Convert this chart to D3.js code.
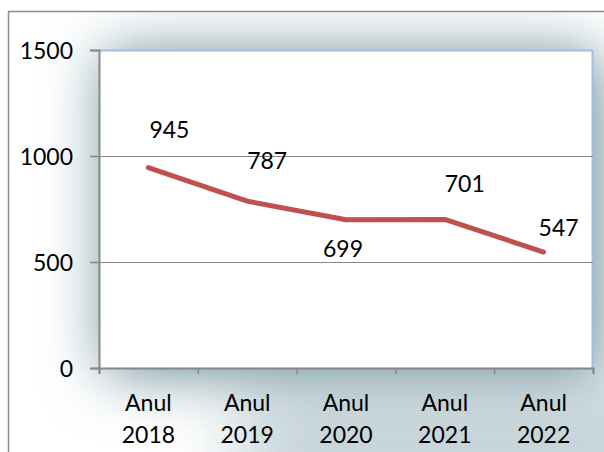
<!DOCTYPE html>
<html>
<head>
<meta charset="utf-8">
<script src="https://cdn.jsdelivr.net/npm/d3@7.9.0/dist/d3.min.js"></script>
<style>
  html, body { margin: 0; padding: 0; background: #fff; }
  svg text { font-family: Lato, "Open Sans", sans-serif; fill: #000; }
</style>
</head>
<body>
<svg id="chart" width="604" height="452"></svg>
<script>
// data
const years = ["2018", "2019", "2020", "2021", "2022"];
const catPrefix = "Anul";
const values = [945, 787, 699, 701, 547];
const yTicks = [0, 500, 1000, 1500];
// where each data label sits relative to its point (dx, dy of baseline)
const labelOffsets = [[21, -30], [20, -32], [-3, 37], [20, -27], [15, -16]];

const svg = d3.select("#chart");
const svgWidth  = +svg.attr("width");
const svgHeight = +svg.attr("height");

// plot area inside the frame
const margin = { top: 50, right: 11, bottom: 84, left: 99 };
const width  = svgWidth  - margin.left - margin.right;
const height = svgHeight - margin.top  - margin.bottom;

// outer chart frame (runs off the right and bottom of the picture)
svg.append("rect")
    .attr("x", 8.5).attr("y", 11.5)
    .attr("width", 620).attr("height", 460)
    .attr("fill", "#fff")
    .attr("stroke", "#8c8c8c")
    .attr("stroke-width", 1.5);

// soft shadow round the plot area
const defs = svg.append("defs");
function blur(id, sd) {
    defs.append("filter").attr("id", id)
        .attr("filterUnits", "userSpaceOnUse")
        .attr("x", -300).attr("y", -300).attr("width", 1200).attr("height", 1100)
      .append("feGaussianBlur").attr("stdDeviation", sd);
}
blur("glowNear", 30);
blur("glowFar", 40);

defs.append("clipPath").attr("id", "frameClip")
  .append("rect").attr("x", 9.3).attr("y", 12.3).attr("width", 620).attr("height", 460);

const shadow = svg.append("g").attr("clip-path", "url(#frameClip)");
shadow.append("rect")
    .attr("x", margin.left + 140).attr("y", margin.top + height + 10)
    .attr("width", 500).attr("height", 140)
    .attr("fill", "#6f919d")
    .attr("fill-opacity", 0.4)
    .attr("filter", "url(#glowFar)");
shadow.append("rect")
    .attr("x", margin.left + 5).attr("y", margin.top + 2)
    .attr("width", width + 2).attr("height", height + 4)
    .attr("fill", "#6a8d99")
    .attr("filter", "url(#glowNear)");

const g = svg.append("g")
    .attr("transform", `translate(${margin.left},${margin.top})`);

// plot background and light blue border
g.append("rect")
    .attr("width", width).attr("height", height)
    .attr("fill", "#fff");
g.append("path")
    .attr("d", `M0,0.5H${width - 0.5}V${height}`)
    .attr("fill", "none")
    .attr("stroke", "#a4bce4")
    .attr("stroke-width", 2);

// scales
const x = d3.scaleBand().domain(years).range([0, width]).padding(0);
const xEdge = d3.scaleLinear().domain([0, years.length]).range([0, width]);
const y = d3.scaleLinear().domain([0, 1500]).range([height, 0]);
const cx = d => x(d) + x.bandwidth() / 2;

// gridlines
g.append("g")
  .selectAll("line")
  .data(yTicks.filter(t => t > 0 && t < 1500))
  .enter().append("line")
    .attr("x1", 0).attr("x2", width)
    .attr("y1", d => Math.round(y(d)) + 0.5)
    .attr("y2", d => Math.round(y(d)) + 0.5)
    .attr("stroke", "#878787")
    .attr("stroke-width", 1.2);

// y axis
const yAxis = g.append("g")
    .call(d3.axisLeft(y).tickValues(yTicks).tickFormat(d3.format("d"))
        .tickSize(9).tickPadding(17));
yAxis.selectAll("text")
    .style("font-size", "23px")
    .attr("dy", "0.36em");

// x axis: ticks at the category boundaries
const xAxis = g.append("g")
    .attr("transform", `translate(0,${height})`)
    .call(d3.axisBottom(xEdge).ticks(years.length).tickSize(6).tickFormat(""));

[yAxis, xAxis].forEach(a => {
    a.select(".domain").attr("stroke", "#878787").attr("stroke-width", 2);
    a.selectAll(".tick line").attr("stroke", "#878787").attr("stroke-width", 1.5);
});

// category labels on two lines
const catLabels = g.append("g")
  .selectAll("text")
  .data(years)
  .enter().append("text")
    .attr("text-anchor", "middle")
    .style("font-size", "23px");
catLabels.append("tspan")
    .attr("x", d => cx(d))
    .attr("y", height + 43)
    .text(catPrefix);
catLabels.append("tspan")
    .attr("x", d => cx(d))
    .attr("y", height + 75)
    .text(d => d);

// the line
const line = d3.line()
    .x((d, i) => cx(years[i]))
    .y(d => y(d));
g.append("path")
    .datum(values)
    .attr("d", line)
    .attr("fill", "none")
    .attr("stroke", "#c0504d")
    .attr("stroke-width", 5)
    .attr("stroke-linecap", "round")
    .attr("stroke-linejoin", "round");

// data labels
g.append("g")
  .selectAll("text")
  .data(values)
  .enter().append("text")
    .attr("x", (d, i) => cx(years[i]) + labelOffsets[i][0])
    .attr("y", (d, i) => y(d) + labelOffsets[i][1])
    .attr("text-anchor", "middle")
    .style("font-size", "23px")
    .text(d => d);
</script>
</body>
</html>
